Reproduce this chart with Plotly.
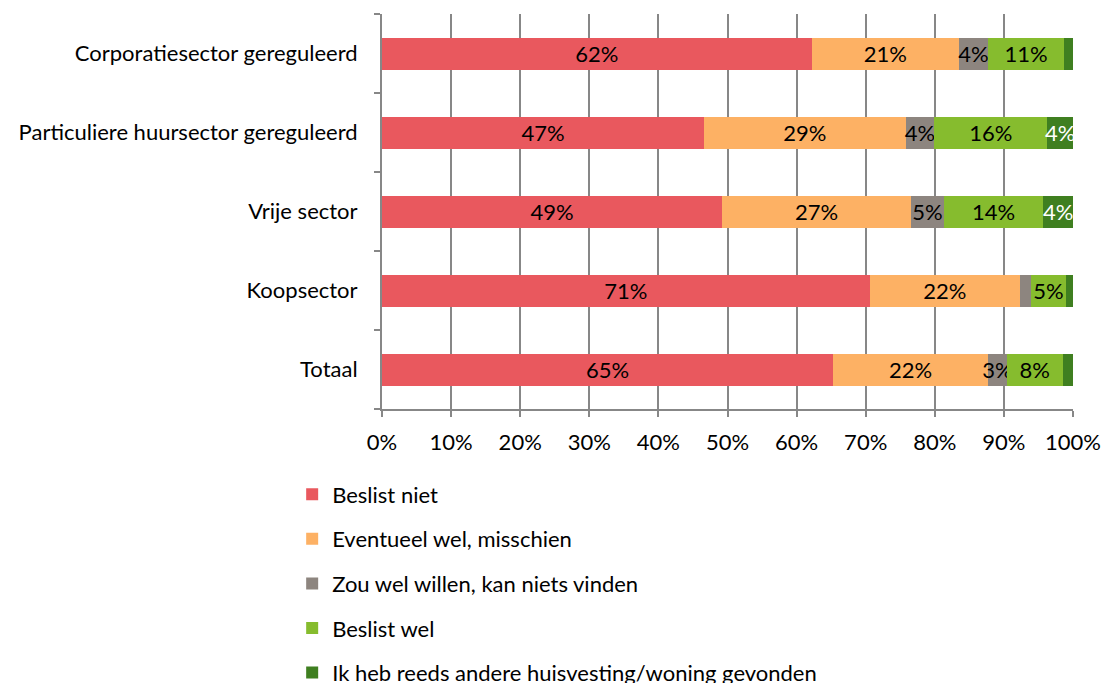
import plotly.graph_objects as go

categories = ["Corporatiesector gereguleerd", "Particuliere huursector gereguleerd",
              "Vrije sector", "Koopsector", "Totaal"]
series_names = ["Beslist niet", "Eventueel wel, misschien", "Zou wel willen, kan niets vinden",
                "Beslist wel", "Ik heb reeds andere huisvesting/woning gevonden"]
beslist_niet = [62.2, 46.6, 49.2, 70.6, 65.3]
eventueel = [21.3, 29.2, 27.4, 21.7, 22.4]
zou_wel = [4.2, 4.1, 4.7, 1.6, 2.7]
beslist_wel = [11.0, 16.4, 14.4, 5.1, 8.1]
reeds = [1.3, 3.7, 4.3, 1.0, 1.5]
# which data labels are shown (as in the original chart)
show_labels = [
    [True, True, True, True, True],
    [True, True, True, True, True],
    [True, True, True, False, True],
    [True, True, True, True, True],
    [False, True, True, False, False],
]
x_ticks = [0, 10, 20, 30, 40, 50, 60, 70, 80, 90, 100]
x_tick_labels = [f"{t}%" for t in x_ticks]

colors = ["#E9585E", "#FDB164", "#8D857F", "#86BC2E", "#3F7F20"]
text_colors = ["#000000", "#000000", "#000000", "#000000", "#FFFFFF"]
FONT = "Lato"
FS = 22

series_values = [beslist_niet, eventueel, zou_wel, beslist_wel, reeds]

fig = go.Figure()
for i, (name, vals) in enumerate(zip(series_names, series_values)):
    texts = [f"{int(v + 0.5):d}%" if show_labels[i][j] else "" for j, v in enumerate(vals)]
    fig.add_trace(go.Bar(
        y=categories, x=vals, name=name, orientation="h",
        marker=dict(color=colors[i], line=dict(width=0)),
        text=texts, textposition="inside", insidetextanchor="middle",
        textangle=0, constraintext="none",
        textfont=dict(family=FONT, size=FS, color=text_colors[i]),
        legendgroup=f"g{i}", hoverinfo="x+name",
    ))

fig.update_layout(
    barmode="stack", bargap=0.595,
    width=1101, height=683,
    margin=dict(l=382, r=28, t=14, b=274, autoexpand=False),
    paper_bgcolor="white", plot_bgcolor="white",
    font=dict(family=FONT, size=FS, color="#000000"),
    showlegend=True,
    legend=dict(orientation="v", x=-0.13, xanchor="left", y=-0.163, yanchor="top",
                traceorder="grouped", tracegroupgap=13,
                font=dict(family=FONT, size=FS, color="#000000"),
                itemwidth=30, bgcolor="rgba(0,0,0,0)"),
    xaxis=dict(range=[0, 100], tickvals=x_ticks, ticktext=x_tick_labels,
               showgrid=True, gridcolor="#878787", gridwidth=2,
               showline=True, linecolor="#878787", linewidth=2,
               ticks="outside", ticklen=6, tickcolor="#878787", tickwidth=2,
               ticklabelstandoff=7, zeroline=False, fixedrange=True),
    yaxis=dict(categoryorder="array", categoryarray=categories[::-1],
               showline=True, linecolor="#878787", linewidth=2,
               ticks="outside", tickson="boundaries", ticklen=6,
               tickcolor="#878787", tickwidth=2, showgrid=False,
               ticklabelstandoff=18, fixedrange=True),
)

fig.write_html("out.html",
               config={"displayModeBar": False},
               post_script="document.body.style.margin='0';document.body.style.overflow='hidden';")
